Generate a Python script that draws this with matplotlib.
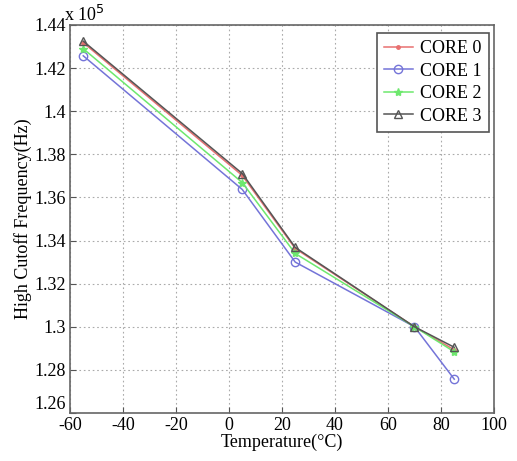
import matplotlib
matplotlib.use("Agg")
import matplotlib.pyplot as plt

plt.rcParams['font.family'] = ['Liberation Serif', 'DejaVu Serif']

temps = [-55, 5, 25, 70, 85]
core0 = [1.4318, 1.3702, 1.3363, 1.3000, 1.2893]
core1 = [1.4257, 1.3637, 1.3300, 1.3000, 1.2757]
core2 = [1.4290, 1.3669, 1.3340, 1.3000, 1.2884]
core3 = [1.4325, 1.3711, 1.3368, 1.3000, 1.2905]
labels = ['CORE 0', 'CORE 1', 'CORE 2', 'CORE 3']
xticks = [-60, -40, -20, 0, 20, 40, 60, 80, 100]
yticks = [1.26, 1.28, 1.30, 1.32, 1.34, 1.36, 1.38, 1.40, 1.42, 1.44]
yticklabels = ['1.26', '1.28', '1.3', '1.32', '1.34', '1.36', '1.38', '1.4', '1.42', '1.44']

fig = plt.figure(figsize=(5.17, 4.61), dpi=100)
ax = fig.add_axes([0.1354, 0.1041, 0.8201, 0.8417])

ax.plot(temps, core0, '-', color='#e87070', marker='.', markersize=5, lw=1.1, label=labels[0])
ax.plot(temps, core1, '-', color='#7474d8', marker='o', markersize=6, mfc='none', lw=1.1, label=labels[1])
ax.plot(temps, core2, '-', color='#6ee86e', marker='*', markersize=6, lw=1.1, label=labels[2])
ax.plot(temps, core3, '-', color='#555555', marker='^', markersize=6, mfc='none', lw=1.1, label=labels[3])

ax.set_xlim(-60, 100)
ax.set_ylim(1.26, 1.44)
ax.set_xticks(xticks)
ax.set_xticklabels([str(t) for t in xticks])
ax.set_yticks(yticks)
ax.set_yticklabels(yticklabels)
ax.tick_params(direction='in', labelsize=13, length=4, color='#555555', pad=3)
ax.get_yticklabels()[0].set_va('bottom')
for s in ax.spines.values():
    s.set_color('#666666')
    s.set_linewidth(1.2)
ax.grid(True, linestyle=(0, (1.5, 2.5)), color='#aaaaaa', linewidth=0.8)

ax.set_xlabel('Temperature(°C)', fontsize=13, labelpad=0)
ax.set_ylabel('High Cutoff Frequency(Hz)', fontsize=13, labelpad=2)
ax.text(-0.015, 1.0, 'x 10$^5$', transform=ax.transAxes, fontsize=13, ha='left', va='bottom')

leg = ax.legend(loc='upper right', bbox_to_anchor=(0.988, 0.979), borderaxespad=0,
                fontsize=13, fancybox=False, framealpha=1, edgecolor='#555555',
                borderpad=0.4, labelspacing=0.3, handlelength=1.6, handletextpad=0.4)
leg.get_frame().set_linewidth(1.2)

fig.savefig('out.png', dpi=100)
